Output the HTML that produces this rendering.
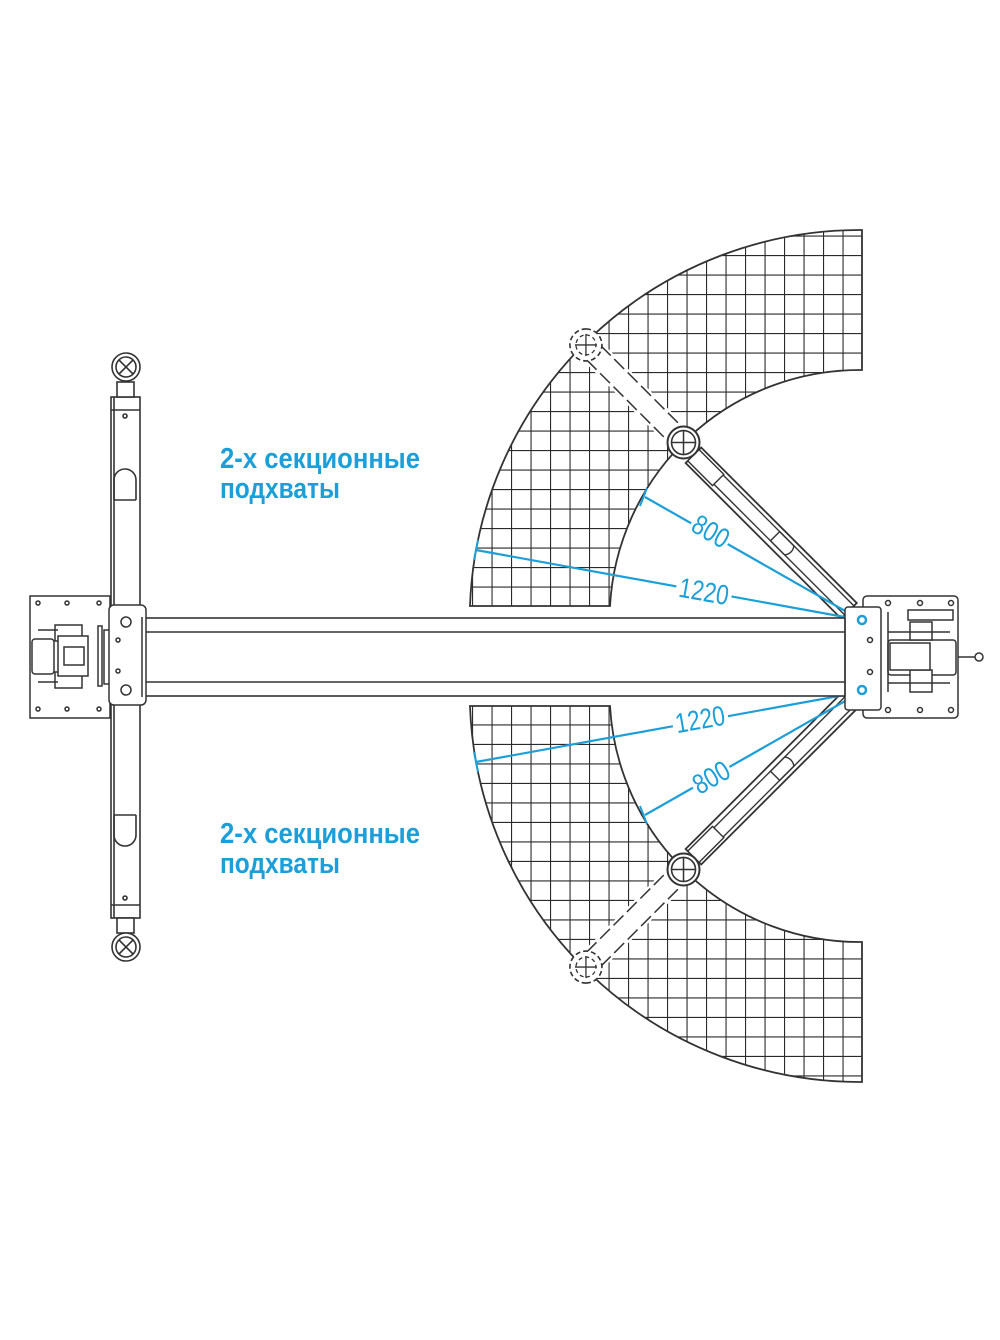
<!DOCTYPE html>
<html><head><meta charset="utf-8"><style>
html,body{margin:0;padding:0;background:#fff;}
svg{display:block;}
.t{font-family:"Liberation Sans Narrow","Liberation Sans",sans-serif;font-weight:bold;fill:#1c9fd8;}
.d{font-family:"Liberation Sans Narrow","Liberation Sans",sans-serif;fill:#1c9fd8;}
</style></head><body>
<svg width="1000" height="1340" viewBox="0 0 1000 1340" xmlns="http://www.w3.org/2000/svg">
<defs>
<pattern id="g" x="472" y="606" width="19.5" height="19.5" patternUnits="userSpaceOnUse">
<path d="M0 0H19.5M0 0V19.5" stroke="#2a2a2a" stroke-width="2.2" fill="none"/>
</pattern>
<clipPath id="cu"><path d="M470 606 A390 390 0 0 1 862 230 L862 370 A250 250 0 0 0 610 606 Z"/></clipPath>
<g id="half">
<path d="M470 606 A390 390 0 0 1 862 230 L862 370 A250 250 0 0 0 610 606 Z" fill="url(#g)" clip-path="url(#cu)"/>
<path d="M470 606 A390 390 0 0 1 862 230 L862 370 A250 250 0 0 0 610 606 Z" fill="none" stroke="#333" stroke-width="1.8"/>
<g transform="translate(861 620) rotate(-135)">
<rect x="0" y="-13" width="388" height="26" fill="#fff" stroke="none"/>
<line x1="250" y1="-10" x2="388" y2="-10" stroke="#333" stroke-width="1.5" stroke-dasharray="14 5"/>
<line x1="250" y1="10" x2="388" y2="10" stroke="#333" stroke-width="1.5" stroke-dasharray="14 5"/>
<rect x="15" y="-13" width="220" height="22" fill="#fff" stroke="#333" stroke-width="1.8"/>
<line x1="15" y1="-8" x2="235" y2="-8" stroke="#333" stroke-width="1.4"/>
<line x1="15" y1="5" x2="235" y2="5" stroke="#333" stroke-width="1.4"/>
<rect x="200" y="-10" width="35" height="16" fill="#fff" stroke="#333" stroke-width="1.4"/>
<path d="M120 -8 H100 A10 10 0 0 0 100 5 H120" fill="none" stroke="#333" stroke-width="1.4"/>
<line x1="120" y1="-8" x2="120" y2="5" stroke="#333" stroke-width="1.4"/>
<g transform="rotate(45 251 0)">
<circle cx="251" cy="0" r="16" fill="#fff" stroke="#333" stroke-width="2"/>
<circle cx="251" cy="0" r="12" fill="none" stroke="#333" stroke-width="1.6"/>
<line x1="239" y1="0" x2="263" y2="0" stroke="#333" stroke-width="1.5"/>
<line x1="251" y1="-12" x2="251" y2="12" stroke="#333" stroke-width="1.5"/>
</g>
<g transform="rotate(45 389 0)">
<circle cx="389" cy="0" r="16" fill="#fff" stroke="#333" stroke-width="1.6" stroke-dasharray="5 3"/>
<circle cx="389" cy="0" r="10" fill="none" stroke="#333" stroke-width="1.3" stroke-dasharray="4 3"/>
<line x1="378" y1="0" x2="400" y2="0" stroke="#333" stroke-width="1.3"/>
<line x1="389" y1="-11" x2="389" y2="11" stroke="#333" stroke-width="1.3"/>
</g>
</g>
<line x1="861" y1="620" x2="645" y2="497" stroke="#1c9fd8" stroke-width="2.2"/>
<line x1="861" y1="620" x2="476" y2="550" stroke="#1c9fd8" stroke-width="2.2"/>
<line x1="647" y1="488" x2="640" y2="506" stroke="#1c9fd8" stroke-width="2"/>
<line x1="478" y1="540" x2="474" y2="560" stroke="#1c9fd8" stroke-width="2"/>
</g>
</defs>

<use href="#half"/>
<use href="#half" transform="translate(0 1312) scale(1 -1)"/>

<g>
<rect x="690" y="518" width="42" height="26" fill="#fff" transform="rotate(30 711 531)"/>
<text class="d" x="692" y="541" font-size="28" textLength="38" lengthAdjust="spacingAndGlyphs" transform="rotate(30 711 531)">800</text>
<rect x="676" y="578" width="56" height="26" fill="#fff" transform="rotate(10 704 591)"/>
<text class="d" x="679" y="601" font-size="28" textLength="50" lengthAdjust="spacingAndGlyphs" transform="rotate(10 704 591)">1220</text>
<rect x="672" y="706" width="56" height="26" fill="#fff" transform="rotate(-10 700 719)"/>
<text class="d" x="675" y="729" font-size="28" textLength="50" lengthAdjust="spacingAndGlyphs" transform="rotate(-10 700 719)">1220</text>
<rect x="690" y="764" width="42" height="26" fill="#fff" transform="rotate(-30 711 777)"/>
<text class="d" x="692" y="787" font-size="28" textLength="38" lengthAdjust="spacingAndGlyphs" transform="rotate(-30 711 777)">800</text>
</g>

<g stroke="#333" stroke-width="1.6" fill="#fff">
<rect x="140" y="618" width="710" height="78"/>
<line x1="140" y1="632" x2="850" y2="632"/>
<line x1="140" y1="682" x2="850" y2="682"/>
</g>

<g stroke="#333" stroke-width="1.6" fill="#fff">
<rect x="111" y="397" width="29" height="521"/>
<line x1="114" y1="397" x2="114" y2="918"/>
<line x1="111" y1="410" x2="140" y2="410"/>
<line x1="111" y1="905" x2="140" y2="905"/>
<path d="M114 500 V480 A11 11 0 0 1 136 480 V500" fill="none"/>
<line x1="114" y1="500" x2="136" y2="500"/>
<path d="M114 815 V835 A11 11 0 0 0 136 835 V815" fill="none"/>
<line x1="114" y1="815" x2="136" y2="815"/>
<circle cx="125" cy="416" r="2"/>
<circle cx="125" cy="898" r="2"/>
<rect x="117" y="382" width="17" height="15"/>
<rect x="117" y="918" width="17" height="15"/>
<circle cx="126" cy="367" r="14"/><circle cx="126" cy="367" r="10" fill="none"/>
<line x1="119" y1="360" x2="133" y2="374"/><line x1="133" y1="360" x2="119" y2="374"/>
<circle cx="126" cy="947" r="14"/><circle cx="126" cy="947" r="10" fill="none"/>
<line x1="119" y1="940" x2="133" y2="954"/><line x1="133" y1="940" x2="119" y2="954"/>
</g>

<g stroke="#333" stroke-width="1.5" fill="#fff">
<rect x="30" y="596" width="80" height="122"/>
<circle cx="38" cy="603" r="2"/><circle cx="67" cy="603" r="2"/><circle cx="99" cy="603" r="2"/>
<circle cx="38" cy="709" r="2"/><circle cx="67" cy="709" r="2"/><circle cx="99" cy="709" r="2"/>
<rect x="32" y="639" width="22" height="35" rx="3"/>
<rect x="55" y="625" width="27" height="16"/><rect x="55" y="672" width="27" height="16"/>
<rect x="58" y="636" width="30" height="40"/>
<rect x="64" y="647" width="20" height="18"/>
<line x1="38" y1="630" x2="58" y2="630"/><line x1="38" y1="682" x2="58" y2="682"/>
<rect x="98" y="626" width="4" height="60"/>
<rect x="104" y="630" width="6" height="54"/>
<rect x="109" y="605" width="37" height="100" rx="5"/>
<line x1="142" y1="617" x2="142" y2="697"/>
<circle cx="126" cy="622" r="5"/><circle cx="126" cy="690" r="5"/>
<circle cx="118" cy="640" r="2"/><circle cx="118" cy="671" r="2"/>
</g>

<g stroke="#333" stroke-width="1.5" fill="#fff">
<rect x="863" y="596" width="95" height="122" rx="4"/>
<circle cx="888" cy="603" r="2.5"/><circle cx="920" cy="603" r="2.5"/><circle cx="951" cy="603" r="2.5"/>
<circle cx="888" cy="710" r="2.5"/><circle cx="920" cy="710" r="2.5"/><circle cx="951" cy="710" r="2.5"/>
<rect x="888" y="640" width="68" height="35" rx="3"/>
<rect x="908" y="610" width="45" height="10"/>
<rect x="910" y="622" width="22" height="18"/><rect x="910" y="670" width="22" height="22"/>
<rect x="890" y="643" width="40" height="27"/>
<line x1="888" y1="612" x2="888" y2="692"/>
<line x1="888" y1="632" x2="950" y2="632"/><line x1="888" y1="683" x2="950" y2="683"/>
<line x1="958" y1="657" x2="975" y2="657"/><circle cx="979" cy="657" r="4"/>
<rect x="845" y="607" width="36" height="103" rx="3"/>
<line x1="845" y1="618" x2="845" y2="696"/>
<circle cx="870" cy="640" r="2.5"/><circle cx="870" cy="672" r="2.5"/>
</g>
<circle cx="862" cy="620" r="4" fill="none" stroke="#1c9fd8" stroke-width="2.5"/>
<circle cx="862" cy="690" r="4" fill="none" stroke="#1c9fd8" stroke-width="2.5"/>

<text class="t" x="220" y="468" font-size="29" textLength="200" lengthAdjust="spacingAndGlyphs">2-х секционные</text>
<text class="t" x="220" y="498" font-size="29" textLength="120" lengthAdjust="spacingAndGlyphs">подхваты</text>
<text class="t" x="220" y="843" font-size="29" textLength="200" lengthAdjust="spacingAndGlyphs">2-х секционные</text>
<text class="t" x="220" y="873" font-size="29" textLength="120" lengthAdjust="spacingAndGlyphs">подхваты</text>
</svg>
</body></html>
